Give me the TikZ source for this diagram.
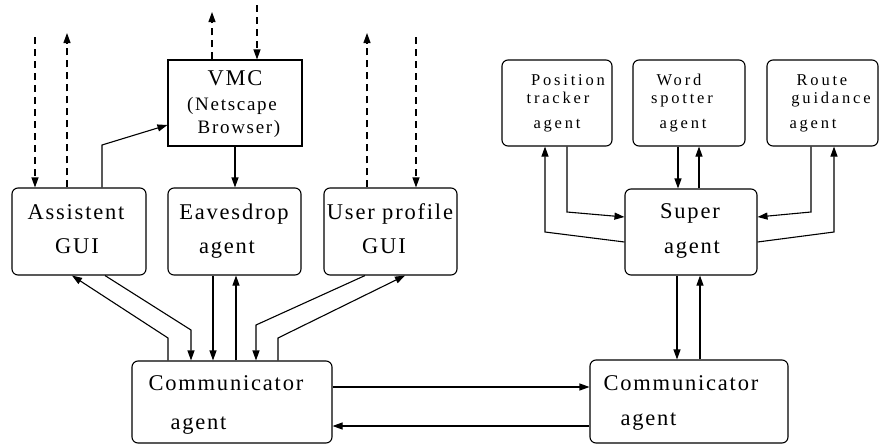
\documentclass[tikz,border=0pt]{standalone}
\usepackage{fontspec}
\setmainfont{Liberation Serif}
\usetikzlibrary{arrows.meta}
\begin{document}
\begin{tikzpicture}[x=1pt,y=-1pt,
  line width=1.1pt,
  agentbox/.style={draw, rounded corners=6pt, inner sep=0pt},
  plainbox/.style={draw, inner sep=0pt},
  big/.style={inner sep=0pt, anchor=base, font=\fontsize{22.5}{24}\selectfont\addfontfeature{LetterSpace=8}},
  mid/.style={inner sep=0pt, anchor=base, font=\fontsize{19}{20}\selectfont\addfontfeature{LetterSpace=9}},
  small/.style={inner sep=0pt, anchor=base, font=\fontsize{16.5}{17}\selectfont\addfontfeature{LetterSpace=17}},
  arr/.style={-{Triangle[length=10pt,width=7pt]}},
  dashline/.style={dash pattern=on 7pt off 5pt},
]
\useasboundingbox (0,0) rectangle (884,445);

% ---- boxes of the client side ----
\node[agentbox, minimum width=134pt, minimum height=87pt] (asg) at (79,231.5) {};
\node[agentbox, minimum width=133pt, minimum height=87pt] (eav) at (234.5,231.5) {};
\node[agentbox, minimum width=133pt, minimum height=87pt] (upg) at (390.5,231.5) {};
\node[plainbox, minimum width=134pt, minimum height=86pt] (vmc) at (235,103) {};
\node[agentbox, minimum width=200pt, minimum height=82pt] (cml) at (232,402) {};

% ---- boxes of the server side ----
\node[agentbox, minimum width=198pt, minimum height=83pt] (cmr) at (689,401.5) {};
\node[agentbox, minimum width=132pt, minimum height=86pt] (sup) at (691,232) {};
\node[agentbox, minimum width=110pt, minimum height=86pt] (pos) at (557,103) {};
\node[agentbox, minimum width=112pt, minimum height=86pt] (wsp) at (689,103) {};
\node[agentbox, minimum width=111pt, minimum height=86pt] (rgd) at (822.5,103) {};

% ---- labels ----
\node[big] at (76,219) {Assistent};
\node[big] at (77,253) {GUI};
\node[big] at (234,219) {Eavesdrop};
\node[big] at (227,253) {agent};
\node[big] at (390,219) {User profile};
\node[big] at (384,253) {GUI};
\node[big] at (235,85) {VMC};
\node[mid] at (232,110) {(Netscape};
\node[mid] at (239,133) {Browser)};
\node[big, anchor=base west] at (148,390) {Communicator};
\node[big, anchor=base west] at (170,429) {agent};
\node[big, anchor=base west] at (603,390) {Communicator};
\node[big, anchor=base west] at (620,425) {agent};
\node[big] at (690,218) {Super};
\node[big] at (692,253) {agent};
\node[small] at (568,85) {Position};
\node[small] at (558,103) {tracker};
\node[small] at (557,128) {agent};
\node[small] at (679,85) {Word};
\node[small] at (682,103) {spotter};
\node[small] at (683,128) {agent};
\node[small] at (822,85) {Route};
\node[small] at (831,103) {guidance};
\node[small] at (813,128) {agent};

% ---- free ends of the dashed external links ----
\coordinate (ain)  at (35,37);
\coordinate (aout) at (67,33);
\coordinate (vout) at (212,12);
\coordinate (vin)  at (257,5);
\coordinate (uout) at (367,33);
\coordinate (uin)  at (416,37);

% ---- dashed links to the outside ----
\draw[dashline, arr] (ain) -- (ain |- asg.north);
\draw[dashline, arr] (aout |- asg.north) -- (aout);
\draw[dashline, arr] (vout |- vmc.north) -- (vout);
\draw[dashline, arr] (vin) -- (vin |- vmc.north);
\draw[dashline, arr] (uout |- upg.north) -- (uout);
\draw[dashline, arr] (uin) -- (uin |- upg.north);

% ---- client side connectors ----
\draw[arr] (102,0 |- asg.north) -- (102,145) -- (vmc.west |- 0,125);
\draw[arr] (vmc.south) -- (eav.north -| vmc.south);
\draw[arr] (168,0 |- cml.north) -- (168,338) -- (72,0 |- asg.south);
\draw[arr] (105,0 |- asg.south) -- (191,330) -- (191,0 |- cml.north);
\draw[arr] (213,0 |- eav.south) -- (213,0 |- cml.north);
\draw[arr] (236,0 |- cml.north) -- (236,0 |- eav.south);
\draw[arr] (365,0 |- upg.south) -- (256,325) -- (256,0 |- cml.north);
\draw[arr] (278,0 |- cml.north) -- (278,338) -- (405,0 |- upg.south);

% ---- link between the two communicators ----
\draw[arr] (cml.east |- 0,387) -- (cmr.west |- 0,387);
\draw[arr] (cmr.west |- 0,426) -- (cml.east |- 0,426);

% ---- server side connectors ----
\draw[arr] (677,0 |- sup.south) -- (677,0 |- cmr.north);
\draw[arr] (700,0 |- cmr.north) -- (700,0 |- sup.south);
\draw[arr] (678,0 |- wsp.south) -- (678,0 |- sup.north);
\draw[arr] (699,0 |- sup.north) -- (699,0 |- wsp.south);
\draw[arr] (567,0 |- pos.south) -- (567,212) -- (sup.west |- 0,217);
\draw[arr] (sup.west |- 0,242) -- (545,232) -- (545,0 |- pos.south);
\draw[arr] (811,0 |- rgd.south) -- (811,212) -- (sup.east |- 0,217);
\draw[arr] (sup.east |- 0,242) -- (834,232) -- (834,0 |- rgd.south);
\end{tikzpicture}
\end{document}
